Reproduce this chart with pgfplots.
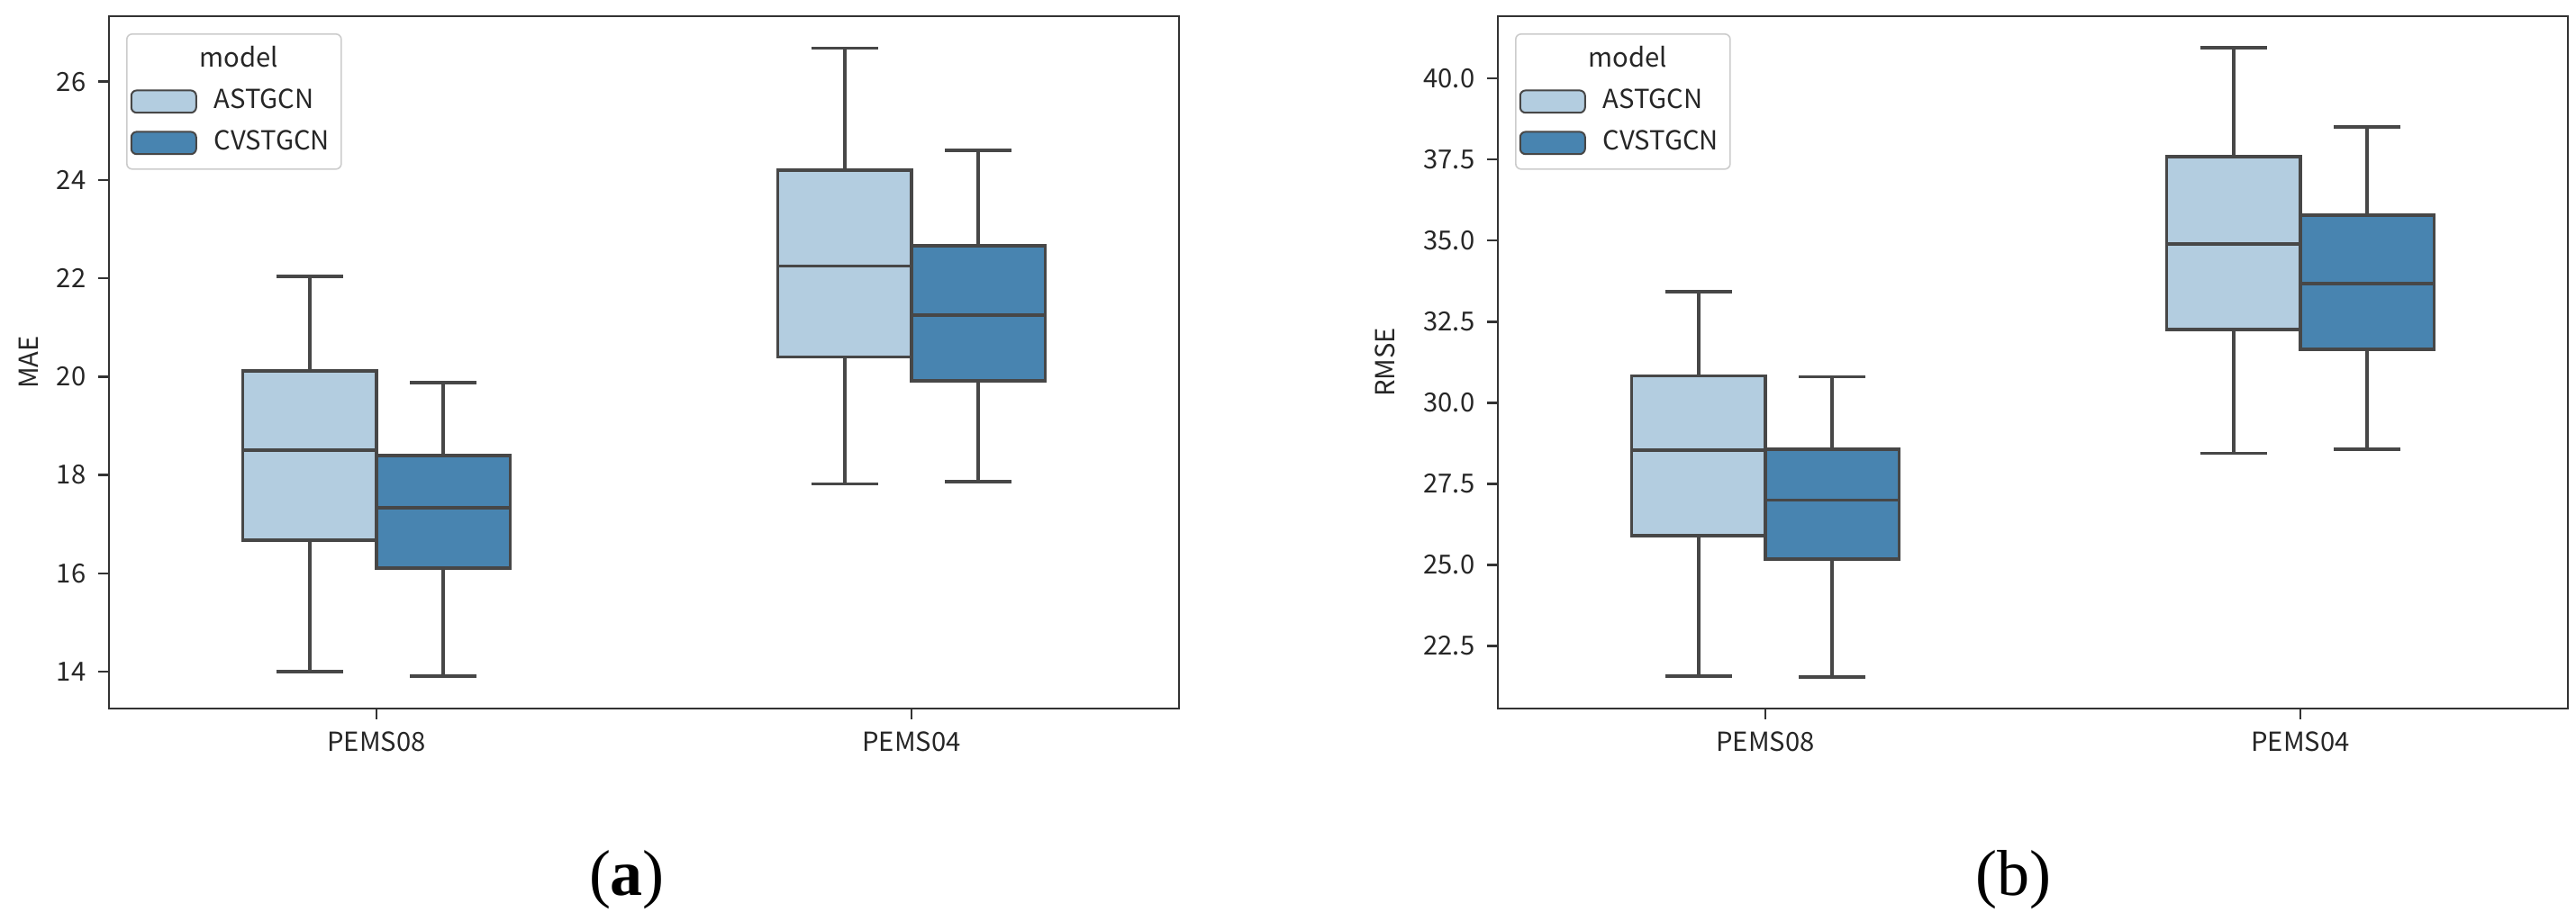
\documentclass[border=0pt]{standalone}
\usepackage{fontspec}
\setmainfont{Noto Sans CJK SC}
\newfontfamily\capfont{Liberation Serif}
\usepackage{pgfplots}
\pgfplotsset{compat=1.18}
\usepgfplotslibrary{statistics}

\definecolor{astlight}{HTML}{B3CDE0}
\definecolor{cvdark}{HTML}{4884B0}
\definecolor{edgegray}{HTML}{474747}
\definecolor{spine}{HTML}{333333}

% 1px of the reference = 0.25pt
\pgfplotsset{
  boxfig/.style={
    width=297pt, height=192.25pt, scale only axis,
    xmin=-0.5, xmax=1.5,
    xtick={0,1}, xticklabels={PEMS08,PEMS04},
    xtick pos=bottom, ytick pos=left,
    tick align=outside, major tick length=2.9pt,
    tick style={spine, line width=0.6pt},
    axis line style={spine, line width=0.6pt},
    tick label style={font=\fontsize{7.3}{8}\selectfont, text=black!85},
    ylabel style={font=\fontsize{7.3}{8}\selectfont, text=black!85},
    xlabel style={font=\capfont\fontsize{18}{20}\selectfont, anchor=center},
    /pgf/number format/assume math mode=true,
    boxplot/draw direction=y,
    boxplot/box extend=0.25,
    boxplot/whisker extend=0.125,
    boxplot/every median/.style={line width=0.95pt},
    legend cell align=left,
    legend style={at={(0,1)}, anchor=north west, xshift=4.75pt, yshift=-4.75pt,
      draw=black!20, rounded corners=1.5pt, fill=white,
      font=\fontsize{7.3}{8}\selectfont, text=black!85,
      inner xsep=1pt, inner ysep=1.75pt, row sep=0.5pt,
      nodes={inner xsep=2.25pt, inner ysep=2pt, text height=5.5pt, text depth=1.5pt}},
    legend image code/.code={
      \draw[#1, draw=edgegray, line width=0.5pt] (0pt,-3.1pt) rectangle (18pt,3.1pt);
      \path (20.5pt,0pt);},
  },
  bx/.style={forget plot, solid, mark=none, draw=edgegray, line width=0.95pt},
}

\begin{document}
\begin{tikzpicture}
\useasboundingbox (0,0) rectangle (715pt,255.5pt);

% (a) MAE
\begin{axis}[boxfig, at={(30.25pt,58.75pt)}, anchor=south west,
  ymin=13.25, ymax=27.33, ytick={14,16,...,26},
  ylabel={MAE}, ylabel style={at={(axis description cs:-0.075,0.5)}, anchor=center},
  xlabel={(\textbf{a})}, xlabel style={at={(axis description cs:0.484,-0.247)}},
]
\addlegendimage{empty legend}\addlegendentry{\hspace*{-4pt}model}
\addlegendimage{fill=astlight}\addlegendentry{ASTGCN}
\addlegendimage{fill=cvdark}\addlegendentry{CVSTGCN}
\addplot[bx, fill=astlight, boxplot prepared={draw position=-0.125,
  lower whisker=14.00, lower quartile=16.67, median=18.51, upper quartile=20.11, upper whisker=22.04}] coordinates {};
\addplot[bx, fill=cvdark, boxplot prepared={draw position=0.125,
  lower whisker=13.91, lower quartile=16.11, median=17.33, upper quartile=18.39, upper whisker=19.88}] coordinates {};
\addplot[bx, fill=astlight, boxplot prepared={draw position=0.875,
  lower whisker=17.82, lower quartile=20.40, median=22.25, upper quartile=24.20, upper whisker=26.68}] coordinates {};
\addplot[bx, fill=cvdark, boxplot prepared={draw position=1.125,
  lower whisker=17.87, lower quartile=19.91, median=21.25, upper quartile=22.66, upper whisker=24.60}] coordinates {};
\end{axis}

% (b) RMSE
\begin{axis}[boxfig, at={(415.75pt,58.75pt)}, anchor=south west,
  ymin=20.57, ymax=41.92, ytick={22.5,25,...,40},
  yticklabel style={/pgf/number format/.cd, fixed, fixed zerofill, precision=1},
  ylabel={RMSE}, ylabel style={at={(axis description cs:-0.105,0.5)}, anchor=center},
  xlabel={(b)}, xlabel style={at={(axis description cs:0.482,-0.247)}},
]
\addlegendimage{empty legend}\addlegendentry{\hspace*{-4pt}model}
\addlegendimage{fill=astlight}\addlegendentry{ASTGCN}
\addlegendimage{fill=cvdark}\addlegendentry{CVSTGCN}
\addplot[bx, fill=astlight, boxplot prepared={draw position=-0.125,
  lower whisker=21.58, lower quartile=25.89, median=28.53, upper quartile=30.83, upper whisker=33.42}] coordinates {};
\addplot[bx, fill=cvdark, boxplot prepared={draw position=0.125,
  lower whisker=21.54, lower quartile=25.18, median=27.00, upper quartile=28.56, upper whisker=30.80}] coordinates {};
\addplot[bx, fill=astlight, boxplot prepared={draw position=0.875,
  lower whisker=28.44, lower quartile=32.25, median=34.89, upper quartile=37.60, upper whisker=40.94}] coordinates {};
\addplot[bx, fill=cvdark, boxplot prepared={draw position=1.125,
  lower whisker=28.56, lower quartile=31.65, median=33.67, upper quartile=35.79, upper whisker=38.50}] coordinates {};
\end{axis}
\end{tikzpicture}
\end{document}
